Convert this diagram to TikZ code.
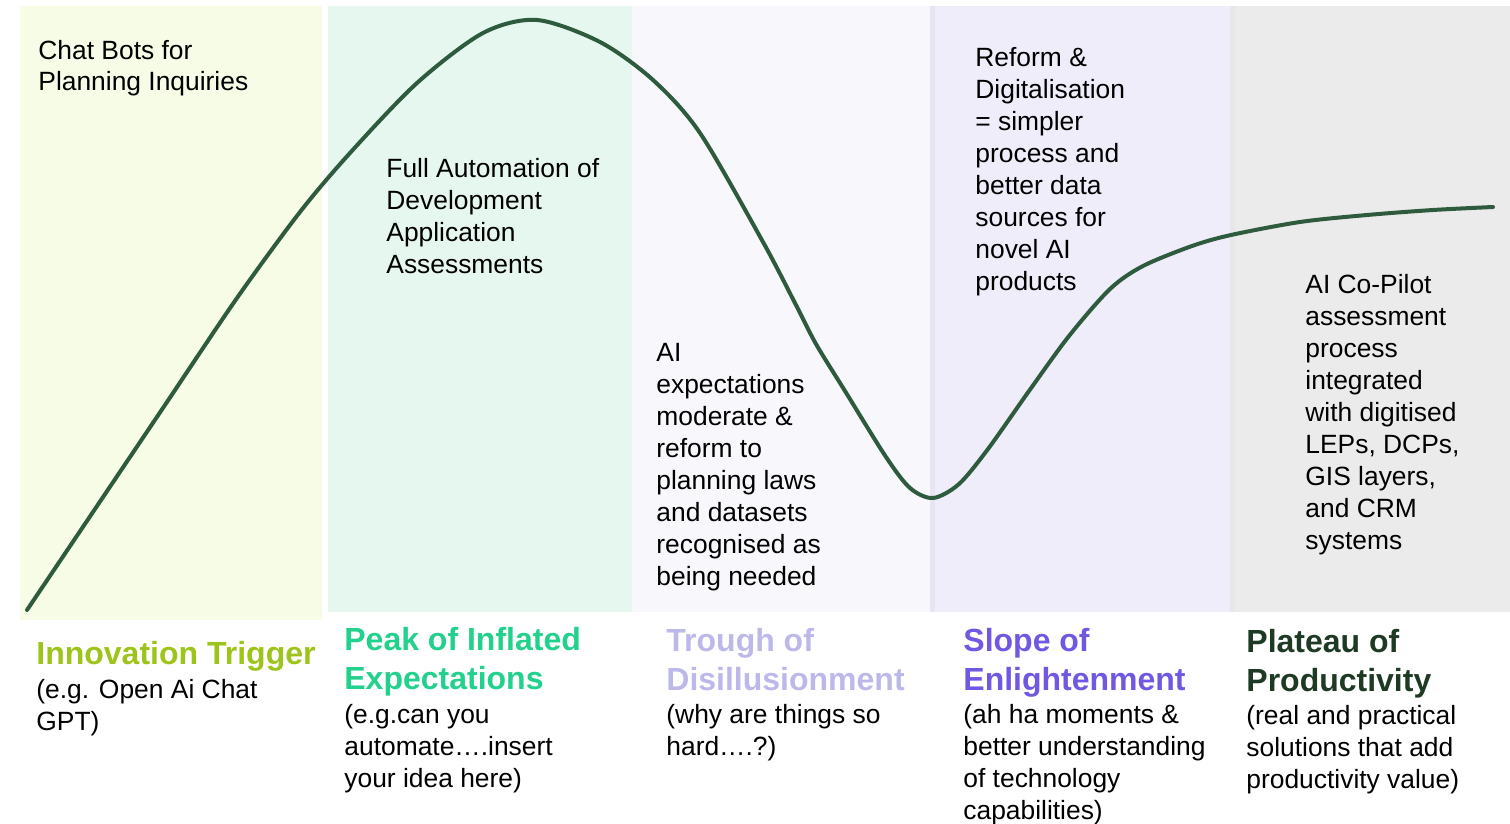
\documentclass[tikz,border=0pt]{standalone}
\usepackage{fontspec}
\setmainfont{Liberation Sans}
\usetikzlibrary{positioning}

\definecolor{trigbg}{HTML}{F6FCE5}
\definecolor{peakbg}{HTML}{E5F7EF}
\definecolor{troughbg}{HTML}{F7F7FC}
\definecolor{slopebg}{HTML}{EFEDFA}
\definecolor{plateaubg}{HTML}{EBEBEB}
\definecolor{trigcol}{HTML}{9DC41A}
\definecolor{peakcol}{HTML}{22D18B}
\definecolor{troughcol}{HTML}{BDB8EA}
\definecolor{slopecol}{HTML}{7158E2}
\definecolor{plateaucol}{HTML}{1E3A24}
\definecolor{curvecol}{HTML}{2E5A3E}

\begin{document}
\begin{tikzpicture}[
    x=0.5pt, y=-0.5pt,
    panel/.style={draw=none},
    note/.style={anchor=base west, inner sep=0pt, align=left, font=\fontsize{13.2}{16}\selectfont},
    phase/.style={anchor=base west, inner sep=0pt, align=left, font=\fontsize{16}{19.5}\selectfont\bfseries},
    hint/.style={note},
    curve/.style={line width=2pt, color=curvecol, line cap=round}
]
\useasboundingbox (0,0) rectangle (1510,824);

% Panels
\fill[panel, trigbg] (20,6) rectangle (322,620);
\fill[panel, peakbg] (328,6) rectangle (632,612);
\fill[panel, troughbg] (632,6) rectangle (930,612);
\fill[panel, slopebg] (930,6) rectangle (1230,612);
\fill[panel, plateaubg] (1230,6) rectangle (1510,612);
\fill[panel, slopebg!92!black!40!slopebg] (930,6) rectangle (935,612);
\fill[panel, plateaubg!90!blue!20!plateaubg] (1230,6) rectangle (1235,612);

% Hype curve
\draw[curve] plot[smooth, tension=0.5] coordinates {
    (27,610) (95,509) (165,405) (237,298) (300,212) (350,153) (417,83)
    (483,33) (537,20) (600,42) (653,80) (700,133) (763,242) (796,305)
    (816,344) (845,391) (886,457) (910,488) (933,498) (959,484) (988,449)
    (1029,391) (1069,336) (1110,289) (1143,266) (1192,246) (1231,235)
    (1300,222) (1367,215) (1433,210) (1493,207)};

% Notes on the curve (base = last line)
\node[note] (chatbots) at (38,91) {Chat Bots for\\Planning Inquiries};
\node[note] (automation) at (386,273) {Full Automation of\\Development\\Application\\Assessments};
\node[note] (moderate) at (656,585) {AI\\expectations\\moderate \&\\reform to\\planning laws\\and datasets\\recognised as\\being needed};
\node[note] (reform) at (975,290) {Reform \&\\Digitalisation\\= simpler\\process and\\better data\\sources for\\novel AI\\products};
\node[note] (copilot) at (1305,549) {AI Co-Pilot\\assessment\\process\\integrated\\with digitised\\LEPs, DCPs,\\GIS layers,\\and CRM\\systems};

% Phase labels
\node[phase, trigcol] (trigger) at (36,664) {Innovation Trigger};
\node[hint] (triggerhint) at (36,730) {(e.g. Open Ai Chat\\GPT)};

\node[phase, peakcol] (peak) at (344,689) {Peak of Inflated\\Expectations};
\node[hint] (peakhint) at (344,787) {(e.g.can you\\automate….insert\\your idea here)};

\node[phase, troughcol] (trough) at (666,690) {Trough of\\Disillusionment};
\node[hint] (troughhint) at (666,755) {(why are things so\\hard….?)};

\node[phase, slopecol] (slope) at (963,690) {Slope of\\Enlightenment};
\node[hint] (slopehint) at (963,819) {(ah ha moments \&\\better understanding\\of technology\\capabilities)};

\node[phase, plateaucol] (plateau) at (1246,691) {Plateau of\\Productivity};
\node[hint] (plateauhint) at (1246,788) {(real and practical\\solutions that add\\productivity value)};

\end{tikzpicture}
\end{document}
